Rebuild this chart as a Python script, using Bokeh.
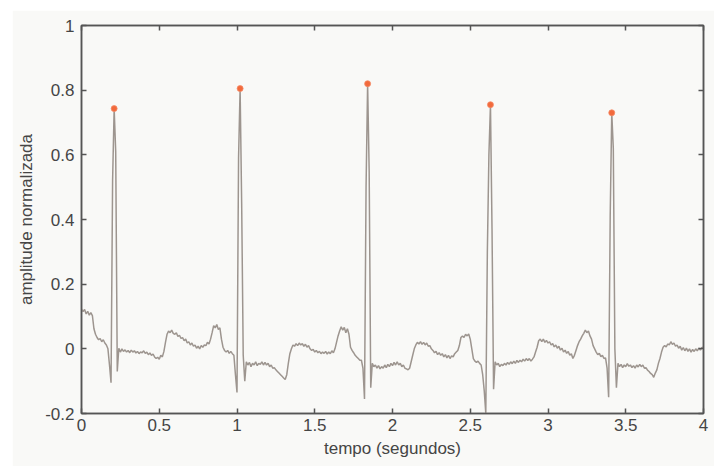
import numpy as np
from bokeh.plotting import figure
from bokeh.models import Range1d, LinearAxis, FixedTicker, CustomJSTickFormatter
from bokeh.embed import file_html
from bokeh.resources import INLINE

# ECG record, one sample every 10 ms over 4 seconds (normalised amplitude)
sample_step = 0.01
amplitude = [
    0.123, 0.115, 0.122, 0.108, 0.116, 0.104, 0.112, 0.103, 0.062, 0.045,
    0.035, 0.028, 0.032, 0.022, 0.028, 0.018, 0.012, 0.0, -0.05, -0.105,
    0.52, 0.743, 0.61, -0.07, 0.002, -0.01, 0.0, -0.008, -0.003, -0.01,
    -0.005, -0.012, -0.004, -0.01, -0.006, -0.013, -0.008, -0.015, -0.01, -0.012,
    -0.006, -0.014, -0.01, -0.018, -0.013, -0.02, -0.016, -0.025, -0.03, -0.026,
    -0.032, -0.02, -0.025, -0.008, 0.02, 0.045, 0.055, 0.05, 0.058, 0.048,
    0.045, 0.05, 0.038, 0.042, 0.032, 0.035, 0.025, 0.03, 0.018, 0.022,
    0.012, 0.018, 0.008, 0.012, 0.002, 0.008, 0.0, 0.01, 0.005, 0.012,
    0.01, 0.02, 0.015, 0.03, 0.05, 0.072, 0.065, 0.075, 0.06, 0.065,
    0.03, 0.005, -0.005, -0.01, -0.005, -0.014, -0.008, -0.015, -0.02, -0.08,
    -0.135, 0.59, 0.805, 0.45, -0.02, -0.1, -0.04, -0.05, -0.042, -0.055,
    -0.045, -0.05, -0.04, -0.052, -0.045, -0.048, -0.04, -0.05, -0.042, -0.05,
    -0.045, -0.055, -0.05, -0.06, -0.058, -0.065, -0.07, -0.075, -0.08, -0.085,
    -0.09, -0.095, -0.08, -0.045, -0.015, 0.0, 0.012, 0.008, 0.016, 0.01,
    0.018, 0.012, 0.016, 0.008, 0.014, 0.005, 0.01, 0.0, -0.005, -0.002,
    -0.01, -0.005, -0.012, -0.008, -0.015, -0.01, -0.014, -0.008, -0.016, -0.01,
    -0.015, -0.006, -0.012, 0.0, 0.02, 0.04, 0.055, 0.068, 0.058, 0.066,
    0.05, 0.062, 0.045, 0.005, -0.005, -0.012, -0.02, -0.025, -0.03, -0.035,
    -0.035, -0.06, -0.155, 0.5, 0.82, 0.55, -0.12, -0.045, -0.055, -0.05,
    -0.06, -0.052, -0.062, -0.055, -0.06, -0.05, -0.058, -0.048, -0.055, -0.045,
    -0.052, -0.042, -0.05, -0.04, -0.05, -0.045, -0.055, -0.05, -0.06, -0.062,
    -0.065, -0.06, -0.04, -0.02, 0.0, 0.012, 0.02, 0.015, 0.022, 0.014,
    0.02, 0.012, 0.018, 0.008, 0.01, 0.0, -0.005, -0.012, -0.008, -0.018,
    -0.012, -0.02, -0.015, -0.025, -0.018, -0.028, -0.02, -0.03, -0.022, -0.025,
    -0.015, -0.01, -0.005, 0.01, 0.035, 0.04, 0.035, 0.045, 0.04, 0.046,
    0.03, 0.0, -0.03, -0.038, -0.042, -0.038, -0.045, -0.05, -0.08, -0.13,
    -0.2, 0.3, 0.6, 0.755, 0.37, -0.125, -0.04, -0.05, -0.045, -0.055,
    -0.048, -0.052, -0.045, -0.05, -0.042, -0.048, -0.04, -0.046, -0.038, -0.045,
    -0.036, -0.042, -0.035, -0.04, -0.032, -0.038, -0.03, -0.036, -0.03, -0.038,
    -0.032, -0.025, -0.01, 0.005, 0.025, 0.03, 0.022, 0.03, 0.02, 0.026,
    0.018, 0.022, 0.012, 0.016, 0.006, 0.012, 0.002, 0.008, -0.004, 0.002,
    -0.01, -0.004, -0.014, -0.008, -0.02, -0.015, -0.03, -0.02, -0.005, 0.01,
    0.022, 0.03, 0.04, 0.048, 0.058, 0.05, 0.055, 0.04, 0.03, 0.01,
    0.0, -0.01, -0.018, -0.014, -0.024, -0.02, -0.03, -0.028, -0.06, -0.15,
    0.41, 0.73, 0.62, 0.0, -0.12, -0.045, -0.055, -0.048, -0.058, -0.05,
    -0.055, -0.046, -0.054, -0.05, -0.058, -0.052, -0.06, -0.05, -0.056, -0.048,
    -0.055, -0.05, -0.06, -0.058, -0.066, -0.07, -0.076, -0.08, -0.088, -0.075,
    -0.065, -0.045, -0.03, -0.01, 0.005, 0.01, 0.006, 0.015, 0.012, 0.022,
    0.014, 0.018, 0.008, 0.012, 0.002, 0.008, -0.004, 0.004, -0.006, 0.002,
    -0.008, 0.0, -0.01, -0.002, -0.008, 0.0, -0.006, 0.002, -0.004, 0.004,
    0.005,
]

# sample indices of the detected R peaks
r_peak_index = [21, 102, 184, 263, 341]

x_ticks = [0, 0.5, 1, 1.5, 2, 2.5, 3, 3.5, 4]
y_ticks = [-0.2, 0, 0.2, 0.4, 0.6, 0.8, 1]

time = np.arange(len(amplitude)) * sample_step
amp = np.array(amplitude)
peak_t = time[r_peak_index]
peak_v = amp[r_peak_index]

BG = "#f9f9f7"
AXIS = "#555555"
TEXT = "#454545"
FONT = "Liberation Sans"

p = figure(
    width=702, height=456, margin=(10, 0, 0, 12),
    x_range=Range1d(0, 4), y_range=Range1d(-0.2, 1),
    output_backend="svg", toolbar_location=None,
    min_border_left=69, min_border_right=11,
    min_border_top=15, min_border_bottom=53,
    background_fill_color=BG, border_fill_color=BG,
    x_axis_label="tempo (segundos)", y_axis_label="amplitude normalizada",
)
p.grid.visible = False
p.outline_line_color = AXIS
p.outline_line_width = 1.5

fmt_code = "return Number(tick.toFixed(2)).toString();"

p.add_layout(LinearAxis(), "above")
p.add_layout(LinearAxis(), "right")

for ax in p.xaxis:
    ax.ticker = FixedTicker(ticks=x_ticks)
for ax in p.yaxis:
    ax.ticker = FixedTicker(ticks=y_ticks)

for ax in p.axis:
    ax.formatter = CustomJSTickFormatter(code=fmt_code)
    ax.axis_line_color = AXIS
    ax.axis_line_width = 1.5
    ax.major_tick_line_color = AXIS
    ax.major_tick_line_width = 1.5
    ax.major_tick_in = 5
    ax.major_tick_out = 0
    ax.minor_tick_line_color = None
    ax.major_label_text_font = FONT
    ax.major_label_text_font_size = "17px"
    ax.major_label_text_color = TEXT
    ax.axis_label_text_font = FONT
    ax.axis_label_text_font_size = "17px"
    ax.axis_label_text_font_style = "normal"
    ax.axis_label_text_color = TEXT

p.xaxis[0].major_label_standoff = 6
p.yaxis[0].major_label_standoff = 7
p.xaxis[0].axis_label_standoff = 3
p.yaxis[0].axis_label_standoff = 6

# top and right axes carry ticks only
for ax in (p.above[0], p.right[0]):
    ax.major_label_text_font_size = "1px"
    ax.major_label_text_color = None
    ax.major_label_standoff = 0
    ax.axis_label = None

p.line(time, amp, line_color="#9d958f", line_width=1.5)
p.scatter(peak_t, peak_v, size=6, fill_color="#f26a3c", line_color="#f58a66", line_width=0.8)

open("out.html", "w").write(file_html(p, INLINE))
